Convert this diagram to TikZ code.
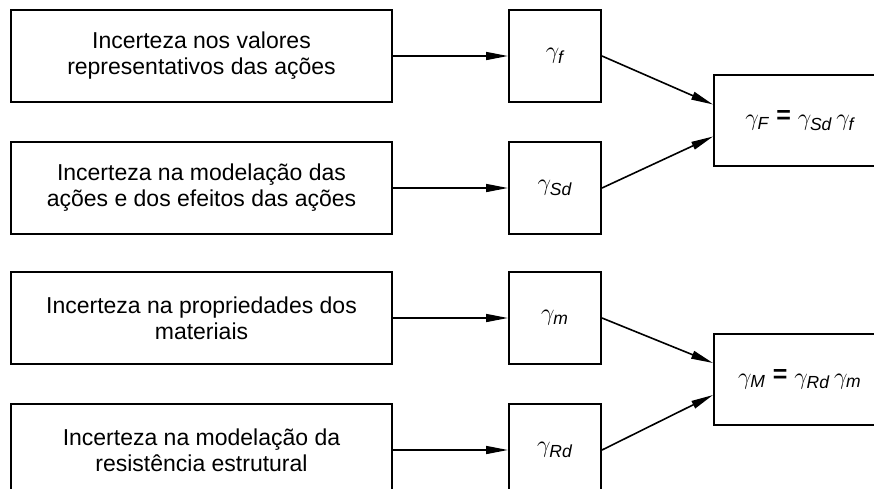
\documentclass[tikz,border=0pt]{standalone}
\usepackage{amsmath}
\usepackage{fontspec}
\setmainfont{Liberation Sans}
\usepackage{tikz}
\usetikzlibrary{arrows.meta,positioning}

\begin{document}
\begin{tikzpicture}[
  x=0.5pt,y=-0.5pt,
  node distance=19pt and 57.5pt,
  box/.style={draw,line width=1pt,align=center,minimum width=190.5pt,
              minimum height=46pt,inner sep=0pt,font=\fontsize{11.5}{13}\selectfont},
  gbox/.style={draw,line width=1pt,minimum width=46pt,minimum height=46pt,
               inner sep=0pt,font=\fontsize{12.5}{14}\selectfont},
  res/.style={draw,line width=1pt,minimum width=86pt,minimum height=45.5pt,
              inner sep=0pt,font=\fontsize{12.5}{14}\selectfont},
  arr/.style={-{Triangle[length=11pt,width=4pt]},line width=0.8pt}
]
  \useasboundingbox (0,0) rectangle (874,488);
  % incertezas
  \node[box] (inc1) at (201.5,56) {Incerteza nos valores\\representativos das ações};
  \node[box,below=of inc1] (inc2) {Incerteza na modelação das\\ações e dos efeitos das ações};
  \node[box,below=18pt of inc2] (inc3) {Incerteza na propriedades dos\\materiais};
  \node[box,below=of inc3] (inc4) {Incerteza na modelação da\\resistência estrutural};
  % coeficientes parciais
  \node[gbox,right=of inc1] (gf) {$\gamma_{\textit{f}}$};
  \node[gbox,right=of inc2] (gSd) {$\gamma_{\textit{Sd}}$};
  \node[gbox,right=of inc3] (gm) {$\gamma_{\textit{m}}$};
  \node[gbox,right=of inc4] (gRd) {$\gamma_{\textit{Rd}}$};
  % coeficientes globais
  \node[res] (gF) at (800,120.5) {$\gamma_{\textit{F}}$ \raisebox{1pt}{\textbf{=}} $\gamma_{\textit{Sd}}\,\gamma_{\textit{f}}$};
  \node[res] (gM) at (800,379) {$\gamma_{\textit{M}}$ \raisebox{1pt}{\textbf{=}} $\gamma_{\textit{Rd}}\,\gamma_{\textit{m}}$};

  \draw[arr] (inc1) -- (gf);
  \draw[arr] (inc2) -- (gSd);
  \draw[arr] (inc3) -- (gm);
  \draw[arr] (inc4) -- (gRd);
  \draw[arr] (gf.east) -- ([yshift=8pt]gF.west);
  \draw[arr] (gSd.east) -- ([yshift=-8pt]gF.west);
  \draw[arr] (gm.east) -- ([yshift=8pt]gM.west);
  \draw[arr] (gRd.east) -- ([yshift=-8pt]gM.west);
\end{tikzpicture}
\end{document}
